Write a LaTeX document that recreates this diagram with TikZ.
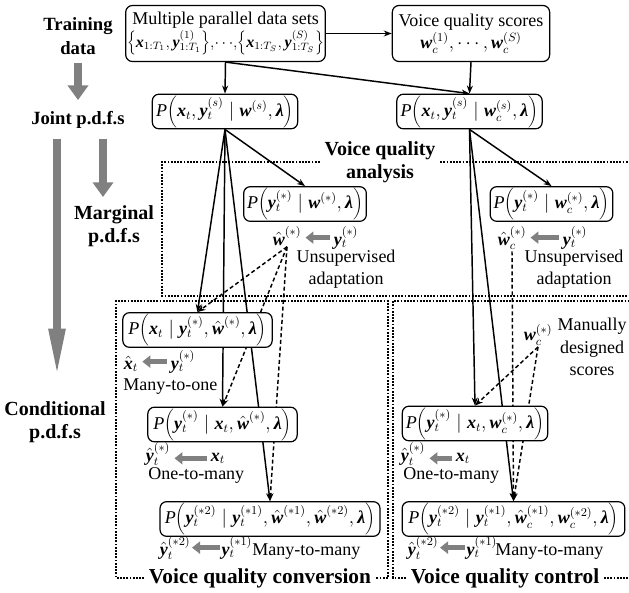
\documentclass[tikz,border=0pt]{standalone}
\usepackage{fontspec}
\setmainfont{Liberation Serif}
\usetikzlibrary{arrows.meta,backgrounds}
\definecolor{pdfgray}{RGB}{128,128,128}
\newcommand{\bv}[1]{\mbox{\bfseries\itshape #1}}
\newcommand{\Pf}[1]{\mbox{\itshape P}{\left(#1\right)}}
\begin{document}
\begin{tikzpicture}[x=0.75pt,y=-0.75pt,
    every node/.style={font=\fontsize{13.5}{17}\selectfont},
    pbox/.style={draw,fill=white,rounded corners=5pt,line width=0.9pt,inner sep=1pt,minimum height=26pt},
    heading/.style={font=\fontsize{14}{17.5}\selectfont\bfseries,align=center},
    bigheading/.style={heading,font=\fontsize{16}{17.5}\selectfont\bfseries},
    tag/.style={inner sep=1pt,anchor=base},
    conn/.style={-{Stealth[length=6pt,width=4.5pt]},line width=1.1pt},
    dconn/.style={conn,dash pattern=on 3pt off 2pt},
    region/.style={densely dotted,line width=1.4pt},
    garrow/.style={-{Triangle[length=11pt,width=15pt]},line width=6.5pt,draw=pdfgray},
    glong/.style={-{Triangle[length=40pt,width=11pt]},line width=6.5pt,draw=pdfgray},
    gsmall/.style={-{Triangle[length=6pt,width=9pt]},line width=3.5pt,draw=pdfgray,shorten <=2pt,shorten >=2pt},
  ]
  \useasboundingbox (0,0) rectangle (629,593);

  % Headings
  \node[heading] (train) at (78,36) {Training\\data};
  \node[heading] (joint) at (78,120) {Joint p.d.f.s};
  \node[heading,font=\fontsize{15}{17.5}\selectfont\bfseries] (marg) at (114,226) {Marginal\\p.d.f.s};
  \node[heading,font=\fontsize{15}{17.5}\selectfont\bfseries] (cond) at (55,422) {Conditional\\p.d.f.s};
  \node[heading,font=\fontsize{15}{17.5}\selectfont\bfseries] (ana) at (380,162) {Voice quality\\analysis};
  \node[bigheading] (conv) at (260,578) {Voice quality conversion};
  \node[bigheading] (ctrl) at (505,578) {Voice quality control};

  % Training data
  \node[pbox,align=center,minimum width=148pt,minimum height=42pt] (data) at (225.5,33.5)
    {Multiple parallel data sets\\
     \fontsize{12}{14}\selectfont
     $\left\{\bv{x}_{1:T_1},\bv{y}^{(1)}_{1:T_1}\right\}\!,\!\cdots\!,\!\left\{\bv{x}_{1:T_S},\bv{y}^{(S)}_{1:T_S}\right\}$};
  \node[pbox,align=center,minimum width=118pt,minimum height=42pt] (scores) at (471,33.5)
    {Voice quality scores\\ $\bv{w}_c^{(1)},\cdots,\bv{w}_c^{(S)}$};

  % Joint p.d.f.s
  \node[pbox,minimum width=109pt] (jl) at (225,111.5)
    {$\Pf{\bv{x}_t,\bv{y}_t^{(s)}\mid\bv{w}^{(s)},\bv{λ}}$};
  \node[pbox,minimum width=109pt] (jr) at (469.5,111.5)
    {$\Pf{\bv{x}_t,\bv{y}_t^{(s)}\mid\bv{w}_c^{(s)},\bv{λ}}$};

  % Marginal p.d.f.s
  \node[pbox,minimum width=92pt] (ml) at (305,204)
    {$\Pf{\bv{y}_t^{(*)}\mid\bv{w}^{(*)},\bv{λ}}$};
  \node[pbox,minimum width=92pt] (mr) at (551.5,204)
    {$\Pf{\bv{y}_t^{(*)}\mid\bv{w}_c^{(*)},\bv{λ}}$};
  \node[tag] (wa) at (287,245) {$\hat{\bv{w}}^{(*)}$};
  \node[tag] (ya) at (346,245) {$\bv{y}_t^{(*)}$};
  \node[align=center,inner sep=0pt] (unsa) at (346,269) {Unsupervised\\adaptation};
  \node[tag] (wac) at (512,245) {$\hat{\bv{w}}_c^{(*)}$};
  \node[tag] (yac) at (575,245) {$\bv{y}_t^{(*)}$};
  \node[align=center,inner sep=0pt] (unsc) at (574,269) {Unsupervised\\adaptation};
  \draw[gsmall] (ya.west) -- (ya.west -| wa.east);
  \draw[gsmall] (yac.west) -- (yac.west -| wac.east);

  % Conditional p.d.f.s, conversion
  \node[pbox,minimum width=112pt] (cA) at (197.5,330)
    {$\Pf{\bv{x}_t\mid\bv{y}_t^{(*)},\hat{\bv{w}}^{(*)},\bv{λ}}$};
  \node[tag] (xa) at (131,369) {$\hat{\bv{x}}_t$};
  \node[tag] (yb) at (183,369) {$\bv{y}_t^{(*)}$};
  \node[tag,anchor=base west,inner sep=0pt] (mto) at (123,390) {Many-to-one};
  \draw[gsmall] (yb.west) -- (yb.west -| xa.east);

  \node[pbox,minimum width=112pt] (cB) at (222.5,424.5)
    {$\Pf{\bv{y}_t^{(*)}\mid\bv{x}_t,\hat{\bv{w}}^{(*)},\bv{λ}}$};
  \node[tag] (yhb) at (158,461) {$\hat{\bv{y}}_t^{(*)}$};
  \node[tag] (xb) at (218,461) {$\bv{x}_t$};
  \node[tag,anchor=base west,inner sep=0pt] (otma) at (148,479) {One-to-many};
  \draw[gsmall] (xb.west) -- (xb.west -| yhb.east);

  \node[pbox,minimum width=165pt] (cC) at (270,519)
    {$\Pf{\bv{y}_t^{(*2)}\mid\bv{y}_t^{(*1)},\hat{\bv{w}}^{(*1)},\hat{\bv{w}}^{(*2)},\bv{λ}}$};
  \node[tag,anchor=base east] (yhc) at (192,555) {$\hat{\bv{y}}_t^{(*2)}$};
  \node[tag,anchor=base west] (yc) at (220,555) {$\bv{y}_t^{(*1)}$};
  \node[tag,anchor=base west,inner sep=0pt] (mtma) at (252,555) {Many-to-many};
  \draw[gsmall,shorten <=0pt,shorten >=0pt] (yc.west) -- (yc.west -| yhc.east);

  % Conditional p.d.f.s, control
  \node[inner sep=1pt] (wm) at (538,335) {$\bv{w}_c^{(*)}$};
  \node[align=center,inner sep=0pt] (manual) at (592,347) {Manually\\designed\\scores};

  \node[pbox,minimum width=109pt] (cD) at (475,423.5)
    {$\Pf{\bv{y}_t^{(*)}\mid\bv{x}_t,\bv{w}_c^{(*)},\bv{λ}}$};
  \node[tag] (yhd) at (413,461) {$\hat{\bv{y}}_t^{(*)}$};
  \node[tag] (xd) at (463,461) {$\bv{x}_t$};
  \node[tag,anchor=base west,inner sep=0pt] (otmb) at (403,479) {One-to-many};
  \draw[gsmall] (xd.west) -- (xd.west -| yhd.east);

  \node[pbox,minimum width=167pt] (cE) at (513.5,519)
    {$\Pf{\bv{y}_t^{(*2)}\mid\bv{y}_t^{(*1)},\hat{\bv{w}}_c^{(*1)},\bv{w}_c^{(*2)},\bv{λ}}$};
  \node[tag,anchor=base east] (yhe) at (440,555) {$\hat{\bv{y}}_t^{(*2)}$};
  \node[tag,anchor=base west] (ye) at (465,555) {$\bv{y}_t^{(*1)}$};
  \node[tag,anchor=base west,inner sep=0pt] (mtmb) at (495,555) {Many-to-many};
  \draw[gsmall,shorten <=0pt,shorten >=0pt] (ye.west) -- (ye.west -| yhe.east);

  % Gray level arrows
  \coordinate (margtip) at (103,197);
  \coordinate (condtip) at (57,382);
  \draw[garrow,shorten <=3pt,shorten >=5pt] (train.south) -- (joint.north);
  \draw[garrow,shorten <=4pt] (joint.south -| margtip) -- (margtip);
  \draw[glong,shorten <=4pt] (joint.south -| condtip) -- (condtip);

  \begin{scope}[on background layer]
    % Regions
    \draw[region] (ana.west) -| (162,296) -- (629,296);
    \draw[region] (ana.east) -- (ana.east -| 629,0);
    \draw[region] (conv.west) -| (116,301) -| (388,578) -- (conv.east);
    \draw[region] (ctrl.west) -| (393,301) -- (629,301);
    \draw[region] (ctrl.east) -- (629,578);

    % Connectors
    \draw[conn] (data.east) -- (scores.west);
    \draw[conn] (data.south) -- (jl.north);
    \draw[conn] (data.south) -- (jr.north);
    \draw[conn] (scores.south) -- (jr.north);
    \draw[conn] (jl.south) -- (ml.north);
    \draw[conn] (jl.south) -- (cA.north);
    \draw[conn] (jl.south) -- (cB.north);
    \draw[conn] (jl.south) -- (cC.north);
    \draw[conn] (jr.south) -- (mr.north);
    \draw[conn] (jr.south) -- (cD.north);
    \draw[conn] (jr.south) -- (cE.north);
    \draw[dconn] (wa.south) -- (cA.north);
    \draw[dconn] (wa.south) -- (cB.north);
    \draw[dconn] (wa.south) -- (cC.north);
    \draw[dconn] (wac.south) -- (cE.north);
    \draw[dconn] (wm.south) -- (cD.north);
    \draw[dconn] (wm.south) -- (cE.north);
  \end{scope}
\end{tikzpicture}
\end{document}
